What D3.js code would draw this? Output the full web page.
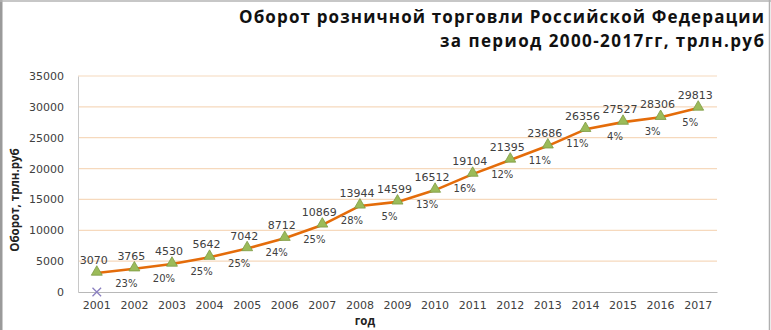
<!DOCTYPE html>
<html><head><meta charset="utf-8">
<script src="https://cdn.jsdelivr.net/npm/d3@7"></script>
<style>
html,body{margin:0;padding:0;background:#fff;}
svg{display:block;}
</style></head>
<body>
<script>
const years = ["2001","2002","2003","2004","2005","2006","2007","2008","2009","2010","2011","2012","2013","2014","2015","2016","2017"];
const turnover = [3070,3765,4530,5642,7042,8712,10869,13944,14599,16512,19104,21395,23686,26356,27527,28306,29813];
const growth = [null,"23%","20%","25%","25%","24%","25%","28%","5%","13%","16%","12%","11%","11%","4%","3%","5%"];
const otherSeries = [{year:"2001", value:0}];
const yTicks = [0,5000,10000,15000,20000,25000,30000,35000];
const titleLines = ["Оборот розничной торговли Российской Федерации","за период 2000-2017гг, трлн.руб"];
const yTitle = "Оборот, трлн.руб";
const xTitle = "год";

const W = 771, H = 330;
const m = {left:78, right:54, top:76, bottom:38};
const svg = d3.select("body").append("svg").attr("width",W).attr("height",H);

// frame
svg.append("rect").attr("x",0).attr("y",0).attr("width",2.5).attr("height",H).attr("fill","#9a9a9a");
svg.append("line").attr("x1",0).attr("x2",W).attr("y1",1).attr("y2",1).attr("stroke","#b5b5b5").attr("stroke-width",1.5);
svg.append("line").attr("x1",769.5).attr("x2",769.5).attr("y1",0).attr("y2",H).attr("stroke","#b0b0b0").attr("stroke-width",1.5);

const x = d3.scaleBand().domain(years).range([m.left, W-m.right]);
const y = d3.scaleLinear().domain([0,35000]).range([H-m.bottom, m.top]);
const cx = d => x(d) + x.bandwidth()/2;

// grid
svg.append("g").selectAll("line").data(yTicks.filter(t=>t>0)).join("line")
  .attr("x1",m.left).attr("x2",W-m.right)
  .attr("y1",d=>y(d)).attr("y2",d=>y(d))
  .attr("stroke","#f6d9bd").attr("stroke-width",1.2);

// y axis
const yAxis = svg.append("g").attr("transform",`translate(${m.left},0)`)
  .call(d3.axisLeft(y).tickValues(yTicks).tickFormat(d3.format("d")).tickSize(0).tickPadding(14));
yAxis.select(".domain").attr("stroke","#c8c8c8");
yAxis.selectAll("text").attr("font-family","DejaVu Sans").attr("font-size",11).attr("fill","#404040");

// x axis
const xAxis = svg.append("g").attr("transform",`translate(0,${H-m.bottom})`)
  .call(d3.axisBottom(x).tickSize(0).tickPadding(9));
xAxis.select(".domain").attr("stroke","#b8b8b8");
xAxis.selectAll("text").attr("font-family","DejaVu Sans").attr("font-size",11).attr("fill","#404040");

// titles
const titleBox = [{x:239, w:525, y:23}, {x:440, w:324, y:47}];
titleLines.forEach((s,i)=>{
  svg.append("text").attr("x",titleBox[i].x).attr("y",titleBox[i].y)
    .attr("textLength",titleBox[i].w).attr("lengthAdjust","spacing")
    .attr("font-family","Open Sans").attr("font-weight","bold")
    .attr("font-size",17).attr("fill","#111").text(s);
});

svg.append("text").attr("transform",`translate(19,200) rotate(-90)`).attr("text-anchor","middle")
  .attr("font-family","Open Sans").attr("font-weight","bold").attr("font-size",11.5).attr("fill","#222").text(yTitle);
svg.append("text").attr("x",365).attr("y",325).attr("text-anchor","middle")
  .attr("font-family","Open Sans").attr("font-weight","bold").attr("font-size",11.5).attr("fill","#222").text(xTitle);

// line
const line = d3.line().x((d,i)=>cx(years[i])).y(d=>y(d));
svg.append("path").datum(turnover).attr("d",line).attr("fill","none")
  .attr("stroke","#e46c0a").attr("stroke-width",2.6).attr("stroke-linejoin","round");

// markers
const tri = d3.symbol().type(d3.symbolTriangle).size(52);
svg.append("g").selectAll("path").data(turnover).join("path")
  .attr("d",tri).attr("transform",(d,i)=>`translate(${cx(years[i])},${y(d)-1})`)
  .attr("fill","#9bbb59").attr("stroke","#7d9a44").attr("stroke-width",0.8);

// other series marker (x)
svg.append("g").selectAll("path").data(otherSeries).join("path")
  .attr("d",d3.symbol().type(d3.symbolX).size(50))
  .attr("transform",d=>`translate(${cx(d.year)},${y(d.value)})`)
  .attr("fill","none").attr("stroke","#8a7fc0").attr("stroke-width",1.3);

// value labels
svg.append("g").selectAll("text").data(turnover).join("text")
  .attr("x",(d,i)=>cx(years[i]) - 3).attr("y",(d,i)=>y(d) - 9)
  .attr("text-anchor","middle").attr("font-family","DejaVu Sans").attr("font-size",11).attr("fill","#404040")
  .text(d=>d);

// growth labels
svg.append("g").selectAll("text").data(growth.map((g,i)=>({g,i})).filter(d=>d.g)).join("text")
  .attr("x",d=>cx(years[d.i]) - 8).attr("y",d=>y(turnover[d.i]) + 18)
  .attr("text-anchor","middle").attr("font-family","DejaVu Sans").attr("font-size",10).attr("fill","#404040")
  .text(d=>d.g);
</script>
</body></html>
